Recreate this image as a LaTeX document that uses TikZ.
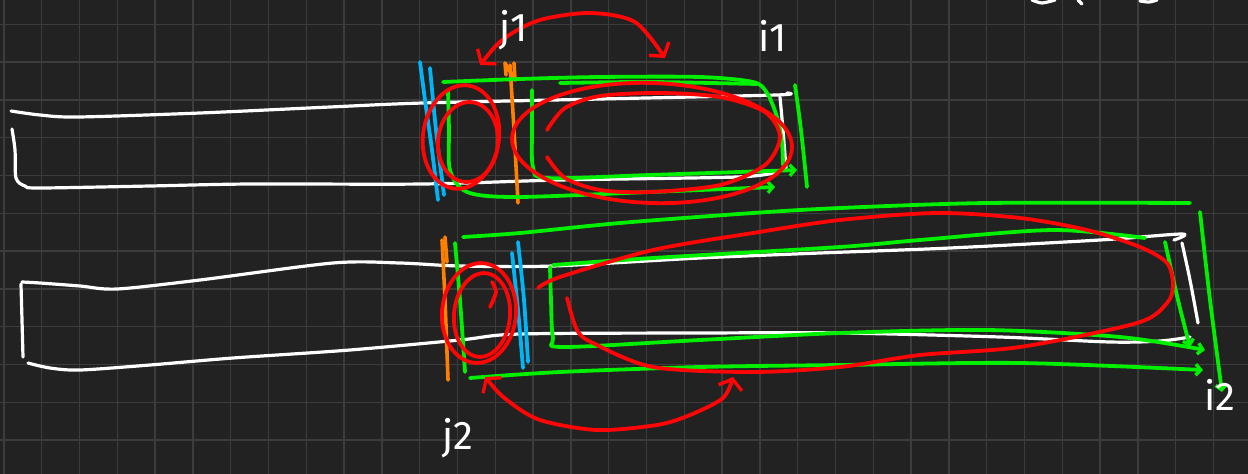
\documentclass[tikz,border=0pt]{standalone}
\usepackage{fontspec}
\setmainfont{Fira Sans}
\usepackage{xcolor}
\usepackage{tikz}
\usetikzlibrary{arrows.meta,calc}
\definecolor{boardbg}{HTML}{222222}
\definecolor{boardgrid}{HTML}{3C3C3C}
\definecolor{inkred}{HTML}{FF0505}
\definecolor{inkgreen}{HTML}{00F000}
\definecolor{inkblue}{HTML}{00B4F5}
\definecolor{inkorange}{HTML}{FF8000}
\tikzset{
gridln/.style={draw=boardgrid,line width=1.4pt},
wstroke/.style={draw=white,line width=3.2pt,line cap=round,line join=round},
gstroke/.style={draw=inkgreen,line width=3.8pt,line cap=round,line join=round},
rstroke/.style={draw=inkred,line width=3.8pt,line cap=round,line join=round},
bstroke/.style={draw=inkblue,line width=3.8pt,line cap=round,line join=round},
ostroke/.style={draw=inkorange,line width=3.6pt,line cap=round,line join=round},
garr/.style={gstroke,-{Straight Barb[length=5pt,width=11pt,line width=3.4pt]}},
rarr/.style={rstroke,{Straight Barb[length=9pt,width=24pt,line width=3.4pt]}-{Straight Barb[length=9pt,width=24pt,line width=3.4pt]}},
lbl/.style={text=white,font=\fontsize{40}{40}\selectfont\mdseries,inner sep=0pt}
}

\begin{document}
\begin{tikzpicture}[x=1pt,y=-1pt]
\useasboundingbox (0,0) rectangle (1248,474);
\fill[boardbg] (0,0) rectangle (1248,474);
% grid
\foreach \i in {0,...,32}
  \draw[gridln] ({3.9+37.8*\i},0) -- ({3.9+37.8*\i},474);
\foreach \j in {0,...,11}
  \draw[gridln] (0,{24.2+37.8*\j}) -- (1248,{24.2+37.8*\j});
% cut-off writing at the top
\draw[wstroke] plot[smooth] coordinates {(1032,0) (1042,3) (1055,0)};
\draw[wstroke] (1078,0) -- (1082,4);
\draw[wstroke] plot[smooth] coordinates {(1140,1) (1149,2) (1157,0)};
% upper bar
\draw[wstroke] plot[smooth] coordinates {(11,111) (40,115) (78,117) (200,113) (330,107) (423,103) (600,99) (776,95) (787,93)};
\draw[wstroke] plot[smooth] coordinates {(12,129) (15,150) (16,178) (25,186) (40,188) (150,186) (250,184) (423,184) (560,180) (737,177) (777,172)};
\draw[wstroke] plot[smooth] coordinates {(780,97) (783,130) (786,168)};
% lower bar
\draw[wstroke] plot[smooth] coordinates {(22,282) (40,283) (80,286) (117,289) (200,280) (333,263) (400,263) (460,266) (553,266) (700,258) (820,253) (950,248) (1100,240) (1182,234) (1174,240)};
\draw[wstroke] plot[smooth] coordinates {(21,284) (22,320) (23,357)};
\draw[wstroke] plot[smooth] coordinates {(28,363) (50,368) (80,370) (150,365) (233,358) (350,350) (460,340) (520,334) (700,333) (840,333) (1000,337) (1110,342) (1160,341) (1190,337)};
\draw[wstroke] plot[smooth] coordinates {(1182,243) (1190,280) (1198,323)};
% cuts
\draw[bstroke] plot[smooth] coordinates {(420,62) (425,100) (432,150) (438,200)};
\draw[bstroke] plot[smooth] coordinates {(430,68) (436,130) (444,195)};
\draw[bstroke] plot[smooth] coordinates {(512,253) (518,310) (523,368)};
\draw[bstroke] plot[smooth] coordinates {(518,242) (524,300) (528,362)};
\draw[ostroke] (506,75) -- (505,63) -- (515,80) -- (514,63);
\draw[ostroke] plot[smooth] coordinates {(510,65) (514,130) (518,203)};
\draw[ostroke] plot[smooth] coordinates {(442,240) (445,300) (448,380)};
\draw[ostroke] (445,237) -- (447,262);
% green ranges, upper
\draw[gstroke] plot[smooth] coordinates {(443,82) (520,79) (600,77) (700,77) (753,82) (767,93) (777,117) (782,143) (783,165)};
\draw[gstroke] plot[smooth] coordinates {(560,83) (650,82) (757,84)};
\draw[garr] plot[smooth] coordinates {(448,90) (449,130) (450,170) (467,192) (517,197) (650,192) (775,187)};
\draw[garr] plot[smooth] coordinates {(532,90) (532,130) (533,167) (547,178) (650,175) (797,170)};
\draw[gstroke] plot[smooth] coordinates {(795,85) (801,130) (807,187)};
% green ranges, lower
\draw[gstroke] plot[smooth] coordinates {(463,237) (520,233) (620,223) (753,213) (840,208) (987,203) (1190,203)};
\draw[garr] plot[smooth] coordinates {(1200,212) (1210,300) (1222,392)};
\draw[gstroke] plot[smooth] coordinates {(553,265) (653,258) (840,247) (920,240) (1053,230) (1145,238)};
\draw[garr] plot[smooth] coordinates {(1165,242) (1178,300) (1190,347)};
\draw[garr] plot[smooth] coordinates {(550,267) (551,300) (553,338) (563,347) (700,340) (840,333) (987,330) (1120,337) (1205,350)};
\draw[gstroke] plot[smooth] coordinates {(455,243) (460,300) (465,372)};
\draw[garr] plot[smooth] coordinates {(470,378) (560,372) (700,367) (840,365) (1020,363) (1203,370)};
% red loops, upper
\draw[rstroke,rotate around={-8:(461,137)}] (461,137) ellipse [x radius=38,y radius=52];
\draw[rstroke,rotate around={-5:(468,142)}] (468,142) ellipse [x radius=30,y radius=40];
\draw[rstroke,rotate around={-2:(652,143)}] (652,143) ellipse [x radius=140,y radius=60];
\draw[rstroke] plot[smooth] coordinates {(547,157) (565,178) (600,190) (650,192) (720,185) (765,165) (780,137) (765,112) (720,97) (660,93) (600,96) (565,108) (547,130)};
\draw[rarr] plot[smooth] coordinates {(480,65) (505,38) (540,20) (590,13) (635,22) (665,58)};
% red loops, lower
\draw[rstroke,rotate around={-5:(479,313)}] (479,313) ellipse [x radius=37,y radius=50];
\draw[rstroke,rotate around={-5:(482,315)}] (482,315) ellipse [x radius=28,y radius=42];
\draw[rstroke] plot[smooth] coordinates {(490,307) (496,292) (492,282)};
\draw[rstroke] plot[smooth] coordinates {(538,288) (560,277) (653,250) (753,233) (840,220) (937,213) (1020,218) (1087,230) (1140,247) (1167,263) (1173,285) (1167,303) (1137,323) (1020,347) (920,355) (840,367) (753,372) (653,367) (593,343) (577,330) (567,298)};
\draw[rarr] plot[smooth] coordinates {(485,377) (507,400) (540,420) (597,430) (657,425) (690,415) (723,398) (733,377)};
% labels
\node[lbl] (jone) at (514,30) {j1};
\node[lbl] (ione) at (773,36) {i1};
\node[lbl] (jtwo) at (458,438) {j2};
\node[lbl] (itwo) at (1220,395) {i2};
\end{tikzpicture}
\end{document}
